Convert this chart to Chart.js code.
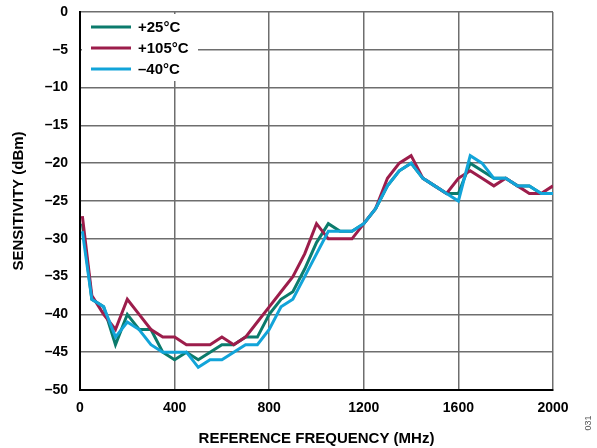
<!DOCTYPE html>
<html>
<head>
<meta charset="utf-8">
<script src="https://cdn.jsdelivr.net/npm/chart.js@4.4.1/dist/chart.umd.min.js"></script>
<style>
    html, body { margin: 0; padding: 0; background: #fff; }
    #wrap { position: relative; width: 597px; height: 448px; }
</style>
</head>
<body>
<div id="wrap"><canvas id="sensChart" width="597" height="448"></canvas></div>
<script>
// Sample data (MHz, dBm)
var freqs = [10, 50, 100, 150, 200, 250, 300, 350, 400, 450, 500, 550, 600, 650, 700, 750, 800, 850, 900, 950,
    1000, 1050, 1100, 1150, 1200, 1250, 1300, 1350, 1400, 1450, 1500, 1550, 1600, 1650, 1700, 1750, 1800, 1850, 1900, 1950, 2000];
var sens25 = [-28, -38, -39, -44, -40, -42, -42, -45, -46, -45, -46, -45, -44, -44, -43, -43, -40, -38, -37, -34,
    -30.5, -28, -29, -29, -28, -26, -23, -21, -20, -22, -23, -24, -24, -20, -21, -22, -22, -23, -23, -24, -24];
var sens105 = [-27, -37.5, -40, -42, -38, -40, -42, -43, -43, -44, -44, -44, -43, -44, -43, -41, -39, -37, -35, -32,
    -28, -30, -30, -30, -28, -26, -22, -20, -19, -22, -23, -24, -22, -21, -22, -23, -22, -23, -24, -24, -23];
var sensM40 = [-29, -38, -39, -43, -41, -42, -44, -45, -45, -45, -47, -46, -46, -45, -44, -44, -42, -39, -38, -35,
    -32, -29, -29, -29, -28, -26, -23, -21, -20, -22, -23, -24, -25, -19, -20, -22, -22, -23, -23, -24, -24];
var seriesLabels = ['+25°C', '+105°C', '\u201340°C'];
var seriesColors = ['#0b7b6c', '#9c1d4b', '#12a4d9'];
var xTicks = [0, 400, 800, 1200, 1600, 2000];

function toPoints(ys) {
    var pts = [];
    for (var i = 0; i < freqs.length; i++) {
        pts.push({ x: freqs[i], y: ys[i] });
    }
    return pts;
}

var FONT = '"Liberation Sans", Arial, sans-serif';

// legend drawn inside the plot, top-left, on a white box
var insideLegend = {
    id: 'insideLegend',
    afterDraw: function (chart) {
        var ctx = chart.ctx;
        var area = chart.chartArea;
        ctx.save();
        ctx.fillStyle = '#fff';
        ctx.fillRect(area.left + 2, area.top + 2, 116, 67);
        ctx.font = 'bold 15px ' + FONT;
        ctx.textBaseline = 'middle';
        for (var i = 0; i < seriesLabels.length; i++) {
            var y = area.top + 15 + i * 21;
            ctx.strokeStyle = seriesColors[i];
            ctx.lineWidth = 3;
            ctx.beginPath();
            ctx.moveTo(area.left + 11, y);
            ctx.lineTo(area.left + 51, y);
            ctx.stroke();
            ctx.fillStyle = '#000';
            ctx.fillText(seriesLabels[i], area.left + 58, y + 1);
        }
        // figure number at the right edge
        ctx.translate(589, 423);
        ctx.rotate(-Math.PI / 2);
        ctx.font = '9px ' + FONT;
        ctx.fillStyle = '#555';
        ctx.textAlign = 'center';
        ctx.fillText('031', 0, 0);
        ctx.restore();
    }
};

var ctx = document.getElementById('sensChart').getContext('2d');
var sensChart = new Chart(ctx, {
    type: 'line',
    data: {
        datasets: [
            { label: seriesLabels[0], data: toPoints(sens25), borderColor: seriesColors[0], order: 2 },
            { label: seriesLabels[1], data: toPoints(sens105), borderColor: seriesColors[1], order: 1 },
            { label: seriesLabels[2], data: toPoints(sensM40), borderColor: seriesColors[2], order: 0 }
        ]
    },
    options: {
        responsive: false,
        animation: false,
        devicePixelRatio: 1,
        elements: {
            line: { borderWidth: 3, tension: 0, fill: false },
            point: { radius: 0 }
        },
        layout: { padding: { left: 0, right: 44, top: 12, bottom: 0 } },
        plugins: {
            legend: { display: false },
            tooltip: { enabled: false }
        },
        scales: {
            x: {
                type: 'linear',
                min: 0,
                max: 2000,
                afterBuildTicks: function (scale) {
                    scale.ticks = xTicks.map(function (v) { return { value: v }; });
                },
                afterFit: function (scale) {
                    scale.height = 58;
                    scale.paddingLeft = 0;
                    scale.paddingRight = 0;
                },
                ticks: {
                    color: '#000',
                    font: { family: FONT, size: 14, weight: 'bold' },
                    padding: 10,
                    maxRotation: 0,
                    callback: function (v) { return String(v); }
                },
                grid: { color: '#6e6e6e', lineWidth: 1.5, drawTicks: false },
                border: { color: '#000', width: 2 },
                title: {
                    display: true,
                    text: 'REFERENCE FREQUENCY (MHz)',
                    color: '#000',
                    font: { family: FONT, size: 15, weight: 'bold' },
                    padding: { top: 6, bottom: 0 }
                }
            },
            y: {
                min: -50,
                max: 0,
                afterFit: function (scale) {
                    scale.width = 80;
                    scale.paddingTop = 0;
                    scale.paddingBottom = 0;
                },
                ticks: {
                    stepSize: 5,
                    color: '#000',
                    font: { family: FONT, size: 14, weight: 'bold' },
                    padding: 12,
                    callback: function (v) { return String(v).replace('-', '\u2013'); }
                },
                grid: { color: '#6e6e6e', lineWidth: 1.5, drawTicks: false },
                border: { color: '#000', width: 2 },
                title: {
                    display: true,
                    text: 'SENSITIVITY (dBm)',
                    color: '#000',
                    font: { family: FONT, size: 15, weight: 'bold' },
                    padding: { top: 10, bottom: 4 }
                }
            }
        }
    },
    plugins: [insideLegend]
});
</script>
</body>
</html>
